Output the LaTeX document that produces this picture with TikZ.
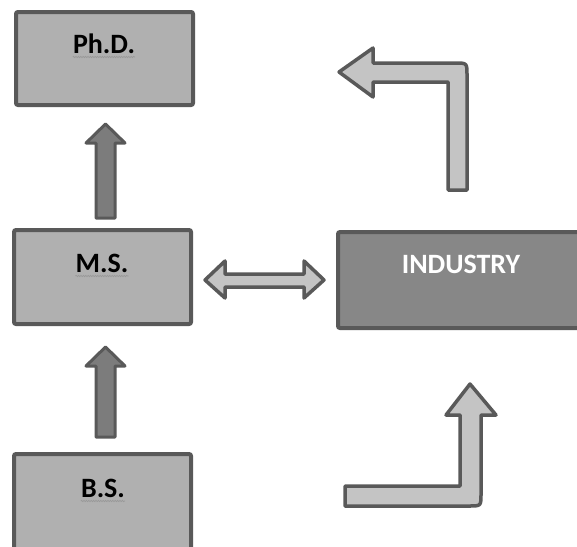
\documentclass[tikz,border=0pt]{standalone}
\usepackage{fontspec}
\setmainfont{Carlito}
\usetikzlibrary{decorations.pathmorphing}
\definecolor{edge}{HTML}{595959}
\definecolor{boxfill}{HTML}{B0B0B0}
\definecolor{indfill}{HTML}{878787}
\definecolor{upfill}{HTML}{7C7C7C}
\definecolor{lightfill}{HTML}{C4C4C4}
\tikzset{
  levelbox/.style={draw=edge, fill=boxfill, line width=4pt, rounded corners=2pt},
  indbox/.style={draw=edge, fill=indfill, line width=4pt, rounded corners=2pt},
  uparrow/.style={draw=edge, fill=upfill, line width=3pt, line join=round},
  lightarrow/.style={draw=edge, fill=lightfill, line width=3.5pt, line join=round},
  label/.style={font=\fontsize{28}{32}\selectfont\bfseries, anchor=base, inner sep=0pt},
  squiggle/.style={draw=gray!80, line width=0.7pt, decorate, decoration={snake, segment length=2.4pt, amplitude=0.7pt}}
}
\begin{document}
\begin{tikzpicture}[x=1pt,y=-1pt]
\useasboundingbox (0,0) rectangle (577,546);
\begin{scope}
\clip (0,0) rectangle (577,546);
% boxes
\draw[levelbox] (16,12) rectangle (193,105);
\draw[levelbox] (14,230) rectangle (191,324);
\draw[levelbox] (14,454) rectangle (191,560);
\draw[indbox] (338,232) rectangle (590,328);
\end{scope}
% labels
\node[label] (phd) at (104,53) {Ph.D.};
\node[label] (ms) at (102,272) {M.S.};
\node[label] (bs) at (103,497) {B.S.};
\node[label, text=white] (ind) at (461,273) {INDUSTRY};
\draw[squiggle] ([yshift=-4pt]phd.base west) -- ([yshift=-4pt]phd.base east);
\draw[squiggle] ([yshift=-4pt]ms.base west) -- ([yshift=-4pt]ms.base east);
\draw[squiggle] ([yshift=-4pt]bs.base west) -- ([yshift=-4pt]bs.base east);
% up arrows
\draw[uparrow] (105.5,124) -- (125,143) -- (115,143) -- (115,218) -- (96,218) -- (96,143) -- (86,143) -- cycle;
\draw[uparrow] (105.5,347) -- (125,366) -- (115,366) -- (115,437) -- (96,437) -- (96,366) -- (86,366) -- cycle;
% double arrow
\draw[lightarrow] (205,280) -- (225,261) -- (225,274) -- (304,274) -- (304,261) -- (324,280) -- (304,298) -- (304,287) -- (225,287) -- (225,298) -- cycle;
% upper bent arrow
\draw[lightarrow] (339,72) -- (373,48) -- (373,63) -- (455,63) .. controls (467,63) .. (467,75) -- (467,190) -- (448,190) -- (448,82) -- (373,82) -- (373,97) -- cycle;
% lower bent arrow
\draw[lightarrow] (345,486) -- (460,486) -- (460,415) -- (446,415) -- (470,384) -- (496,415) -- (481,415) -- (481,494) .. controls (481,506) .. (469,506) -- (345,506) -- cycle;
\end{tikzpicture}
\end{document}
